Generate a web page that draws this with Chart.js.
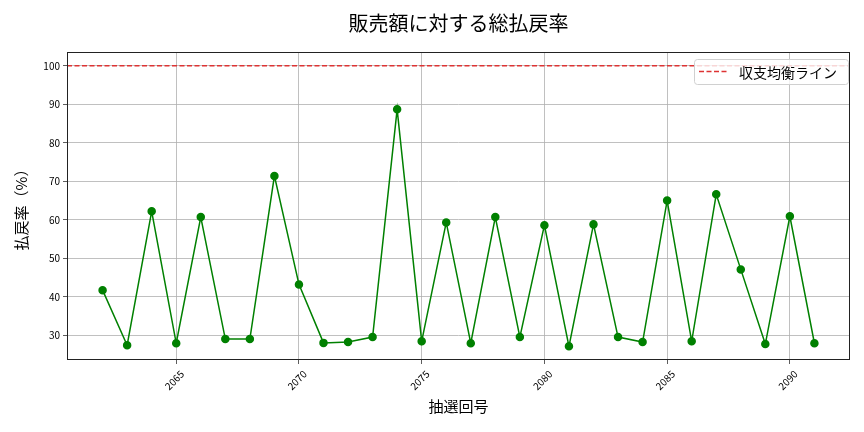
<!DOCTYPE html>
<html>
<head>
<meta charset="utf-8">
<script src="https://cdn.jsdelivr.net/npm/chart.js@4"></script>
<style>
  html, body { margin: 0; padding: 0; background: #fff; }
  #wrap { width: 864px; height: 432px; }
</style>
</head>
<body>
<div id="wrap"><canvas id="c"></canvas></div>
<script>
// 抽選回号と払戻率
const draws = [2062, 2063, 2064, 2065, 2066, 2067, 2068, 2069, 2070, 2071,
  2072, 2073, 2074, 2075, 2076, 2077, 2078, 2079, 2080, 2081,
  2082, 2083, 2084, 2085, 2086, 2087, 2088, 2089, 2090, 2091];
const payoutRate = [41.7, 27.4, 62.2, 27.9, 60.7, 29.0, 29.0, 71.4, 43.2, 28.0,
  28.2, 29.5, 88.7, 28.4, 59.3, 27.9, 60.7, 29.5, 58.6, 27.1,
  58.8, 29.5, 28.2, 65.0, 28.4, 66.6, 47.1, 27.7, 60.9, 27.9];
const xTicks = [2065, 2070, 2075, 2080, 2085, 2090];
const yTicks = [30, 40, 50, 60, 70, 80, 90, 100];
const breakEven = 100;
const titleText = '販売額に対する総払戻率';
const legendText = '収支均衡ライン';

const FONT = '"Noto Sans CJK JP", "Noto Sans", sans-serif';
const RED = '#dd3333';

// タイトル・枠・収支均衡ライン・凡例
const extras = {
  id: 'extras',
  beforeDatasetsDraw(chart) {
    const { ctx, chartArea: a, scales } = chart;
    const y = scales.y.getPixelForValue(breakEven);
    ctx.save();
    ctx.strokeStyle = RED;
    ctx.lineWidth = 1.5;
    ctx.setLineDash([5, 2.5]);
    ctx.beginPath();
    ctx.moveTo(a.left, y);
    ctx.lineTo(a.right, y);
    ctx.stroke();
    ctx.restore();
  },
  afterDraw(chart) {
    const { ctx, chartArea: a } = chart;
    ctx.save();
    // 枠
    ctx.strokeStyle = '#222';
    ctx.lineWidth = 1;
    ctx.strokeRect(a.left + 0.5, a.top + 0.5, a.right - a.left - 1, a.bottom - a.top - 1);
    // タイトル
    ctx.fillStyle = '#000';
    ctx.font = '20px ' + FONT;
    ctx.textAlign = 'center';
    ctx.textBaseline = 'middle';
    ctx.fillText(titleText, (a.left + a.right) / 2, 23);
    // 凡例
    const bx = a.right - 156, by = a.top + 7, bw = 154, bh = 25;
    ctx.fillStyle = 'rgba(255,255,255,0.8)';
    ctx.strokeStyle = '#d0d0d0';
    ctx.lineWidth = 1;
    ctx.beginPath();
    ctx.roundRect(bx + 0.5, by + 0.5, bw, bh, 3);
    ctx.fill();
    ctx.stroke();
    ctx.strokeStyle = RED;
    ctx.lineWidth = 1.5;
    ctx.setLineDash([5, 2.5]);
    ctx.beginPath();
    ctx.moveTo(bx + 5, by + bh / 2);
    ctx.lineTo(bx + 34, by + bh / 2);
    ctx.stroke();
    ctx.setLineDash([]);
    ctx.fillStyle = '#000';
    ctx.font = '14px ' + FONT;
    ctx.textAlign = 'left';
    ctx.fillText(legendText, bx + 45, by + bh / 2 + 1);
    ctx.restore();
  }
};

new Chart(document.getElementById('c'), {
  type: 'line',
  data: {
    labels: draws,
    datasets: [{
      label: '総払戻率',
      data: draws.map((d, i) => ({ x: d, y: payoutRate[i] })),
      borderColor: '#008000',
      backgroundColor: '#008000',
      borderWidth: 1.5,
      pointRadius: 3.5,
      pointHoverRadius: 3.5,
      tension: 0
    }]
  },
  options: {
    responsive: true,
    maintainAspectRatio: false,
    animation: false,
    layout: { padding: { top: 52, right: 14, left: 0, bottom: 0 } },
    plugins: { legend: { display: false }, title: { display: false }, tooltip: { enabled: false } },
    scales: {
      x: {
        type: 'linear',
        min: 2060.55,
        max: 2092.45,
        afterBuildTicks: s => { s.ticks = xTicks.map(v => ({ value: v })); },
        afterFit: s => { s.height = 72; },
        grid: { color: '#b0b0b0', lineWidth: 0.8, tickColor: '#333', tickLength: 4 },
        border: { display: false },
        ticks: {
          color: '#000',
          font: { family: FONT, size: 10 },
          minRotation: 45,
          maxRotation: 45,
          labelOffset: 6,
          padding: 4,
          callback: v => String(v)
        },
        title: {
          display: true,
          text: '抽選回号',
          color: '#000',
          font: { family: FONT, size: 15 },
          padding: { top: 0, bottom: 17 }
        }
      },
      y: {
        min: 23.55,
        max: 103.6,
        afterBuildTicks: s => { s.ticks = yTicks.map(v => ({ value: v })); },
        afterFit: s => { s.width = 67; },
        grid: { color: '#b0b0b0', lineWidth: 0.8, tickColor: '#333', tickLength: 4 },
        border: { display: false },
        ticks: {
          color: '#000',
          font: { family: FONT, size: 10 },
          padding: 3
        },
        title: {
          display: true,
          text: '払戻率（%）',
          color: '#000',
          font: { family: FONT, size: 15 },
          padding: { top: 12, bottom: 0 }
        }
      }
    }
  },
  plugins: [extras]
});
</script>
</body>
</html>
